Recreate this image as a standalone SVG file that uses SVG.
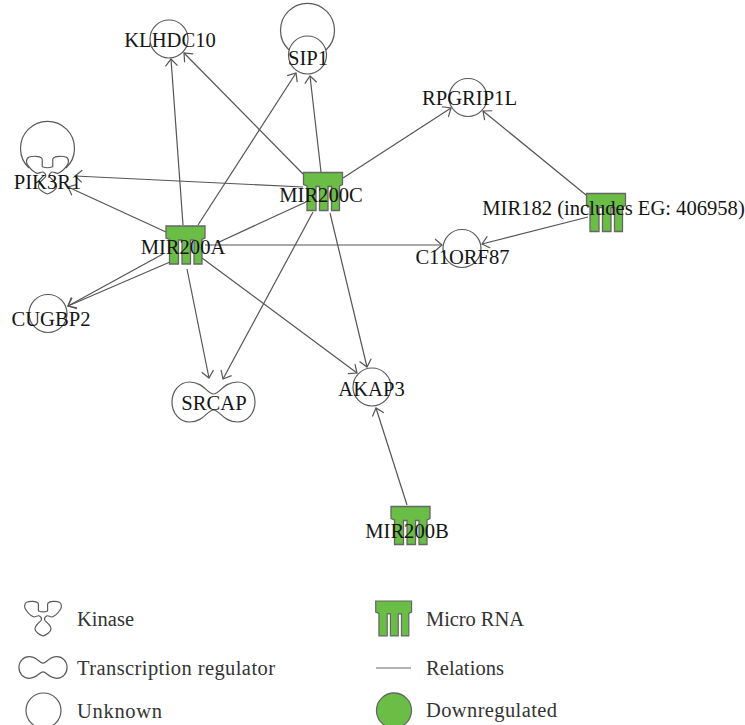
<svg xmlns="http://www.w3.org/2000/svg" width="745" height="725" viewBox="0 0 745 725">
<style>
text{font-family:"Liberation Serif","Times New Roman",serif}
.lb{font-size:20.6px;fill:#151515;text-anchor:middle}
.lg{font-size:20.5px;fill:#333}
.sh{fill:none;stroke:#5a5a5a;stroke-width:1.2;vector-effect:non-scaling-stroke}
.mi{fill:#6abd45;stroke:#666;stroke-width:1.3}
.l{fill:none;stroke:#555;stroke-width:1.2}
.e{fill:none;stroke:#555;stroke-width:1.2;marker-end:url(#a)}
</style>
<defs>
<marker id="a" markerUnits="userSpaceOnUse" markerWidth="12" markerHeight="16" refX="9" refY="8" orient="auto" overflow="visible"><path d="M2,2 L9,8 L2,14" fill="none" stroke="#555" stroke-width="1.2"/></marker>
<path id="mirna" class="mi" d="M0,0H39V12L36,13.500V38H28V14H24.500V38H16V14H12.500V38H3.500V13.500L0,12Z"/>
<path id="kin" class="sh" d="M-4.500,-8C-5,-11-4,-14-5,-16C-7,-18-13,-18-16,-17C-19,-16-19,-11-17,-9C-15,-6-12,-3-9,-2C-7,-2-5,-4-3.500,-3C-1.500,-1.500-1,0-2,1.500C-4,4-8,6-8,10C-8,13-3,16 0,17C3,16 8,13 8,10C8,6 4,4 2,1.500C1,0 1.500,-1.500 3.500,-3C5,-4 7,-2 9,-2C12,-3 15,-6 17,-9C19,-11 19,-16 16,-17C13,-18 7,-18 5,-16C4,-14 5,-11 4.500,-8C2,-7 -2,-7 -4.500,-8Z"/>
<path id="pea" class="sh" d="M0,-8C-6,-8-10,-20-24,-20C-34,-20-41.500,-11-41.500,0C-41.500,11-34,20-24,20C-10,20-6,8 0,8C6,8 10,20 24,20C34,20 41.500,11 41.500,0C41.500,-11 34,-20 24,-20C10,-20 6,-8 0,-8Z"/>
</defs>
<g id="connectors">
<path class="e" d="M183,225L171,59"/>
<path class="e" d="M198,225L296,73"/>
<path class="e" d="M166,232L68,187"/>
<path class="e" d="M303,187L75,176"/>
<path class="e" d="M163,254L68,306"/>
<path class="e" d="M170,262L68,306"/>
<path class="e" d="M187,269L209,378"/>
<path class="e" d="M313,212L223,379"/>
<path class="e" d="M202,258L357,373"/>
<path class="e" d="M330,213L367,367"/>
<path class="e" d="M407,505L376,408"/>
<path class="e" d="M303,174L184,53"/>
<path class="e" d="M321,172L310,76"/>
<path class="e" d="M343,178L451,108"/>
<path class="e" d="M586,195L483,111"/>
<path class="e" d="M588,217L482,244"/>
<path class="e" d="M205,245L442,245"/>
<path class="l" d="M306,202L217,243"/>
</g>
<g id="n-klhdc10"><circle class="sh" cx="169" cy="39" r="19"/><text class="lb" x="170" y="47">KLHDC10</text></g>
<g id="n-sip1"><path class="sh" d="M289,50A27,27 0 1 1 326,50"/><circle class="sh" cx="307.500" cy="55" r="19"/><text class="lb" x="308" y="65">SIP1</text></g>
<g id="n-pik3r1"><path class="sh" d="M29,168A27,27 0 1 1 66,168"/><use href="#kin" transform="translate(47.500,175.500) scale(1.14,1.09)"/><text class="lb" x="47.500" y="189">PIK3R1</text></g>
<g id="n-rpgrip1l"><circle class="sh" cx="468" cy="97.500" r="19"/><text class="lb" x="469.500" y="105">RPGRIP1L</text></g>
<g id="n-c11orf87"><circle class="sh" cx="462" cy="248.500" r="19"/><text class="lb" x="462.500" y="264">C11ORF87</text></g>
<g id="n-cugbp2"><circle class="sh" cx="48" cy="313.500" r="19"/><text class="lb" x="51" y="326">CUGBP2</text></g>
<g id="n-akap3"><circle class="sh" cx="372" cy="387" r="19"/><text class="lb" x="371.500" y="395.500">AKAP3</text></g>
<g id="n-srcap"><use href="#pea" x="213.500" y="402"/><text class="lb" x="214" y="410">SRCAP</text></g>
<g id="n-mir200a"><use href="#mirna" x="166" y="226"/><text class="lb" x="183" y="254">MIR200A</text></g>
<g id="n-mir200c"><use href="#mirna" x="303.500" y="172.500"/><text class="lb" x="321" y="202">MIR200C</text></g>
<g id="n-mir182"><use href="#mirna" x="586.500" y="193.500"/><text class="lb" x="613.500" y="215">MIR182 (includes EG: 406958)</text></g>
<g id="n-mir200b"><use href="#mirna" x="391" y="506.500"/><text class="lb" x="407" y="538">MIR200B</text></g>
<g id="legend">
<use href="#kin" x="43" y="619"/><text class="lg" x="77" y="626" textLength="57">Kinase</text>
<use href="#pea" transform="translate(43,667.500) scale(.58,.54)"/><text class="lg" x="77" y="675" textLength="198">Transcription regulator</text>
<circle class="sh" cx="43.500" cy="710.500" r="17.500"/><text class="lg" x="77" y="718" textLength="85">Unknown</text>
<use href="#mirna" transform="translate(375.700,601) scale(.92)"/><text class="lg" x="426" y="626" textLength="98">Micro RNA</text>
<path d="M376,668H411" stroke="#666" stroke-width="1.200"/><text class="lg" x="426" y="675" textLength="78">Relations</text>
<circle class="mi" cx="394" cy="710.500" r="17.500"/><text class="lg" x="426" y="717" textLength="131">Downregulated</text>
</g>
</svg>
